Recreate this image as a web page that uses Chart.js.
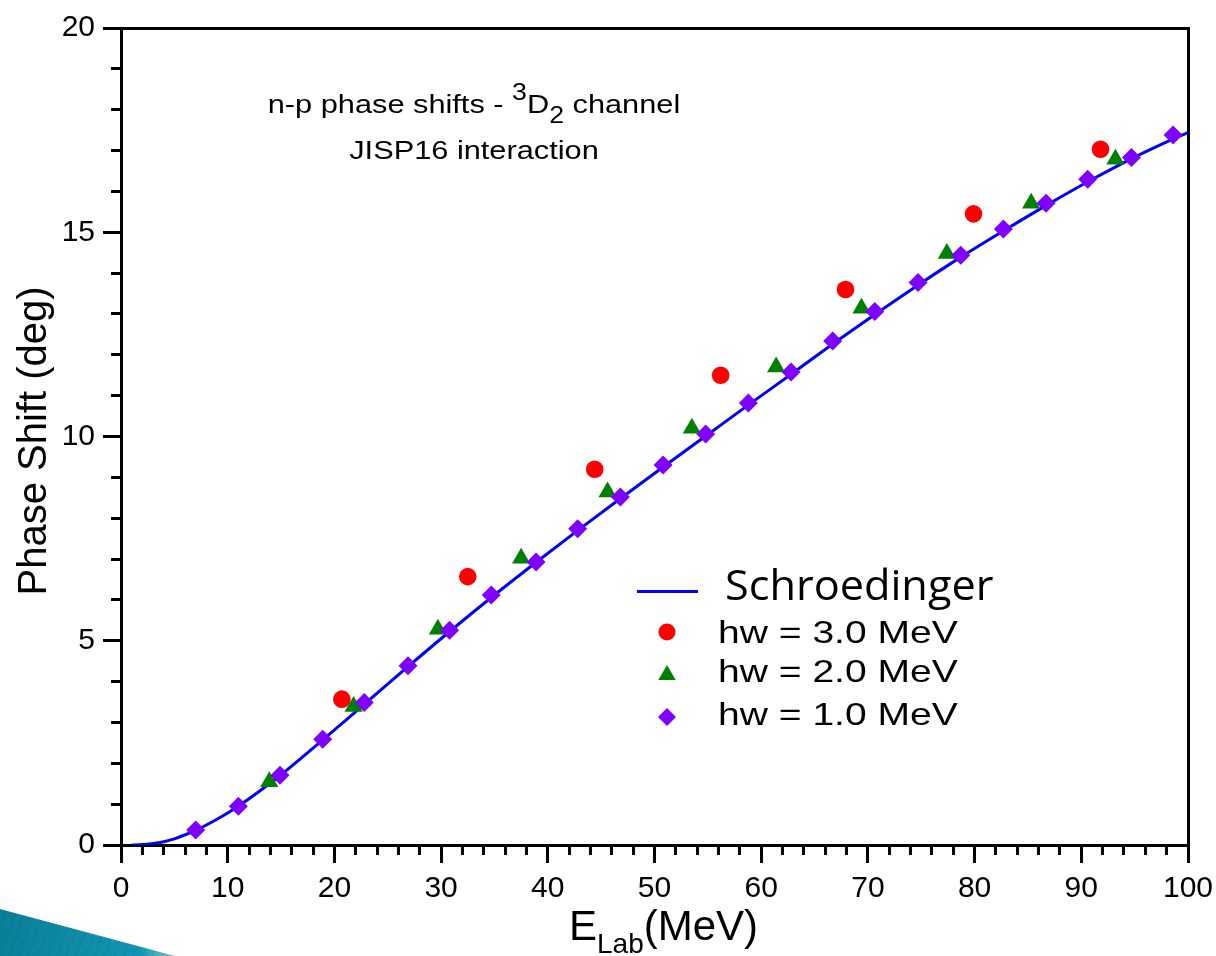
<!DOCTYPE html>
<html>
<head>
<meta charset="utf-8">
<script src="https://cdn.jsdelivr.net/npm/chart.js@4/dist/chart.umd.min.js"></script>
<style>
  html, body { margin: 0; padding: 0; background: #fff; }
  #wrap { position: relative; width: 1216px; height: 956px; overflow: hidden; font-family: 'Liberation Sans', Arial, sans-serif; color: #000; }
  #chart { position: absolute; left: 0; top: 0; }
  .txt { position: absolute; white-space: nowrap; }
  .note { left: 224px; width: 500px; text-align: center; font-size: 26.5px; line-height: 27px; transform: scaleX(1.16); }
  .leg { left: 718px; font-size: 32px; line-height: 32px; transform: scaleX(1.22); transform-origin: left center; }
  .mark { position: absolute; }
  #deco { position: absolute; left: 0; top: 900px; width: 200px; height: 56px;
    clip-path: polygon(0 9px, 175px 56px, 0 56px);
    background: repeating-linear-gradient(110deg, rgba(0,0,0,0.08) 0 1px, transparent 1px 9px), linear-gradient(90deg, #0a7f98, #1296b3 70%, #cfe9f0); }
</style>
</head>
<body>
<div id="wrap">
  <canvas id="chart" width="1216" height="956"></canvas>

  <div class="txt note" style="top:91px">n-p phase shifts - <span style="font-size:23px;position:relative;top:-13px">3</span>D<span style="font-size:23px;position:relative;top:10px">2</span> channel</div>
  <div class="txt note" style="top:137px">JISP16 interaction</div>

  <div class="txt" style="left:-168px;top:421px;width:400px;height:40px;line-height:40px;text-align:center;font-size:40px;transform:rotate(-90deg)">Phase Shift (deg)</div>
  <div class="txt" style="left:569px;top:905px;font-size:42px;line-height:42px">E<span style="font-size:28px;position:relative;top:13px">Lab</span>(MeV)</div>

  <div class="mark" style="left:637px;top:590px;width:61px;height:3px;background:#0000ff"></div>
  <div class="txt" style="left:725px;top:563px;font-family:'Open Sans',sans-serif;font-size:42px;line-height:42px;transform:scaleX(1.03);transform-origin:left center">Schroedinger</div>
  <svg class="mark" style="left:656px;top:621px" width="22" height="22"><circle cx="11" cy="11" r="8.5" fill="#ff0000"/></svg>
  <div class="txt leg" style="top:616px">hw = 3.0 MeV</div>
  <svg class="mark" style="left:656px;top:663px" width="22" height="22"><polygon points="11,2 19.7,17 2.3,17" fill="#008000"/></svg>
  <div class="txt leg" style="top:655px">hw = 2.0 MeV</div>
  <svg class="mark" style="left:656px;top:706px" width="22" height="22"><polygon points="11,2 20,11 11,20 2,11" fill="#8000ff"/></svg>
  <div class="txt leg" style="top:698px">hw = 1.0 MeV</div>

  <div id="deco"></div>
</div>

<script>
// Schroedinger curve (E_lab in MeV, phase shift in deg)
const curveEnergy = [1, 2, 3, 4, 5, 6, 7, 9, 11, 13, 15, 17, 19, 21, 23, 27, 31, 35, 39, 43, 47, 51, 55, 59, 63, 67, 71, 75, 79, 83, 87, 91, 95, 99, 100];
const curvePhase = [0, 0.01, 0.04, 0.08, 0.15, 0.25, 0.36, 0.63, 0.95, 1.32, 1.72, 2.15, 2.59, 3.04, 3.49, 4.39, 5.27, 6.12, 6.94, 7.74, 8.52, 9.29, 10.05, 10.81, 11.56, 12.32, 13.05, 13.76, 14.44, 15.08, 15.70, 16.29, 16.84, 17.33, 17.44];

// hw = 3.0 MeV
const energy30 = [20.7, 32.5, 44.4, 56.2, 67.9, 79.9, 91.8];
const phase30 = [3.57, 6.57, 9.2, 11.5, 13.6, 15.45, 17.03];

// hw = 2.0 MeV
const energy20 = [13.9, 21.8, 29.7, 37.5, 45.6, 53.5, 61.4, 69.4, 77.4, 85.3, 93.2];
const phase20 = [1.55, 3.39, 5.28, 7.02, 8.64, 10.2, 11.7, 13.14, 14.48, 15.71, 16.79];

// hw = 1.0 MeV
const energy10 = [7.0, 11.0, 14.9, 18.9, 22.8, 26.9, 30.8, 34.7, 38.9, 42.8, 46.8, 50.8, 54.8, 58.8, 62.8, 66.7, 70.65, 74.7, 78.7, 82.7, 86.7, 90.6, 94.7, 98.6];
const phase10 = [0.37, 0.95, 1.71, 2.59, 3.49, 4.39, 5.26, 6.12, 6.93, 7.74, 8.52, 9.3, 10.06, 10.82, 11.58, 12.34, 13.06, 13.77, 14.44, 15.08, 15.71, 16.3, 16.83, 17.38];

const xMajorStep = 10, xMinorStep = 2;
const yMajorStep = 5, yMinorStep = 1;

const toPoints = (xs, ys) => xs.map((x, i) => ({ x: x, y: ys[i] }));

const tickFont = { family: "'Liberation Sans', Arial, sans-serif", size: 30 };

// axes that only draw a line or tick marks take no room of their own
const noPad = (s) => { s.paddingLeft = 0; s.paddingRight = 0; s.paddingTop = 0; s.paddingBottom = 0; };

new Chart(document.getElementById('chart'), {
  type: 'scatter',
  data: {
    datasets: [
      {
        label: 'Schroedinger',
        data: toPoints(curveEnergy, curvePhase),
        showLine: true,
        borderColor: '#0000ff',
        borderWidth: 3,
        pointRadius: 0,
        cubicInterpolationMode: 'monotone',
        order: 3
      },
      {
        label: 'hw = 3.0 MeV',
        data: toPoints(energy30, phase30),
        pointStyle: 'circle',
        pointRadius: 8.8,
        backgroundColor: '#ff0000',
        borderWidth: 0,
        order: 2
      },
      {
        label: 'hw = 2.0 MeV',
        data: toPoints(energy20, phase20),
        pointStyle: 'triangle',
        pointRadius: 10.5,
        backgroundColor: '#008000',
        borderWidth: 0,
        order: 1
      },
      {
        label: 'hw = 1.0 MeV',
        data: toPoints(energy10, phase10),
        pointStyle: 'rectRot',
        pointRadius: 9.5,
        backgroundColor: '#8000ff',
        borderWidth: 0,
        order: 0
      }
    ]
  },
  options: {
    responsive: false,
    animation: false,
    layout: { padding: { top: 28, right: 28, left: 0, bottom: 0 } },
    plugins: { legend: { display: false }, tooltip: { enabled: false } },
    scales: {
      x: {
        type: 'linear', axis: 'x', position: 'bottom', weight: 1,
        min: 0, max: 100,
        ticks: { stepSize: xMajorStep, autoSkip: false, maxRotation: 0, padding: 8, color: '#000', font: tickFont },
        grid: { drawOnChartArea: false, tickLength: 18, tickWidth: 3, tickColor: '#000' },
        border: { color: '#000', width: 3 },
        afterFit: (s) => { s.height = 111; noPad(s); }
      },
      xMinor: {
        type: 'linear', axis: 'x', position: 'bottom', weight: 0,
        min: 0, max: 100,
        ticks: { stepSize: xMinorStep, display: false },
        grid: { drawOnChartArea: false, tickLength: 10, tickWidth: 3, tickColor: '#000' },
        border: { display: false },
        afterFit: (s) => { s.height = 0; noPad(s); }
      },
      xTop: {
        type: 'linear', axis: 'x', position: 'top',
        min: 0, max: 100,
        ticks: { display: false },
        grid: { display: false },
        border: { color: '#000', width: 3 },
        afterFit: (s) => { s.height = 0; noPad(s); }
      },
      y: {
        type: 'linear', axis: 'y', position: 'left', weight: 1,
        min: 0, max: 20,
        ticks: { stepSize: yMajorStep, padding: 8, color: '#000', font: tickFont },
        grid: { drawOnChartArea: false, tickLength: 18, tickWidth: 3, tickColor: '#000' },
        border: { color: '#000', width: 3 },
        afterFit: (s) => { s.width = 121; noPad(s); }
      },
      yMinor: {
        type: 'linear', axis: 'y', position: 'left', weight: 0,
        min: 0, max: 20,
        ticks: { stepSize: yMinorStep, display: false },
        grid: { drawOnChartArea: false, tickLength: 10, tickWidth: 3, tickColor: '#000' },
        border: { display: false },
        afterFit: (s) => { s.width = 0; noPad(s); }
      },
      yRight: {
        type: 'linear', axis: 'y', position: 'right',
        min: 0, max: 20,
        ticks: { display: false },
        grid: { display: false },
        border: { color: '#000', width: 3 },
        afterFit: (s) => { s.width = 0; noPad(s); }
      }
    }
  }
});
</script>
</body>
</html>
